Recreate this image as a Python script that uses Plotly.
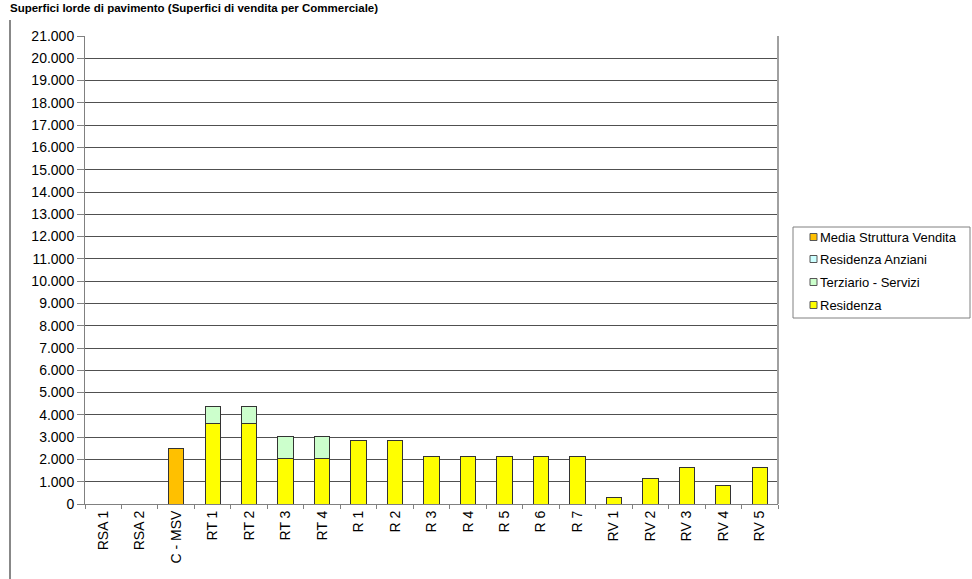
import plotly.graph_objects as go

categories = ["RSA 1", "RSA 2", "C - MSV", "RT 1", "RT 2", "RT 3", "RT 4", "R 1", "R 2",
              "R 3", "R 4", "R 5", "R 6", "R 7", "RV 1", "RV 2", "RV 3", "RV 4", "RV 5"]
residenza = [0, 0, 0, 3620, 3620, 2050, 2050, 2870, 2870, 2120, 2120, 2120, 2120, 2120,
             270, 1150, 1650, 850, 1650]
terziario = [0, 0, 0, 750, 750, 1000, 1000, 0, 0, 0, 0, 0, 0, 0, 0, 0, 0, 0, 0]
residenza_anziani = [0] * 19
media_struttura = [0, 0, 2500, 0, 0, 0, 0, 0, 0, 0, 0, 0, 0, 0, 0, 0, 0, 0, 0]
y_ticks = list(range(0, 21001, 1000))

W, H = 972, 579
L, R, T, B = 85, 778, 36, 504

def px(x):
    return (x - L) / (R - L)

def py(y):
    return (B - y) / (B - T)

FONT = "Liberation Sans, Arial"
fig = go.Figure()
series = [
    ("Residenza", residenza, "#FFFF00"),
    ("Terziario - Servizi", terziario, "#CCFFCC"),
    ("Residenza Anziani", residenza_anziani, "#CCFFFF"),
    ("Media Struttura Vendita", media_struttura, "#FFC000"),
]
for name, vals, col in series:
    fig.add_trace(go.Bar(x=categories, y=vals, name=name, showlegend=False,
                         marker=dict(color=col, line=dict(color="#333333", width=1))))

shapes = [
    dict(type="line", xref="paper", yref="paper", x0=1, x1=1, y0=0, y1=1,
         line=dict(color="#a0a0a0", width=2)),
    dict(type="line", xref="paper", yref="paper", x0=px(10), x1=px(10),
         y0=py(20), y1=py(579), line=dict(color="#606060", width=1.5)),
    # legend box
    dict(type="rect", xref="paper", yref="paper", x0=px(793), x1=px(970),
         y0=py(318), y1=py(227), line=dict(color="#808080", width=1), fillcolor="white"),
]
annotations = [
    dict(text="<b>Superfici lorde di pavimento (Superfici di vendita per Commerciale)</b>",
         xref="paper", yref="paper", x=px(8), y=py(0), xanchor="left", yanchor="top",
         showarrow=False, font=dict(size=11.5, family=FONT)),
]
legend_rows = [237, 259, 282, 305]
for (name, vals, col), yrow in zip(reversed(series), legend_rows):
    shapes.append(dict(type="rect", xref="paper", yref="paper",
                       x0=px(810), x1=px(817), y0=py(yrow + 3.5), y1=py(yrow - 3.5),
                       line=dict(color="#555555", width=1), fillcolor=col))
    annotations.append(dict(text=name, xref="paper", yref="paper", x=px(818), y=py(yrow),
                            xanchor="left", yanchor="middle", showarrow=False,
                            font=dict(size=13, family=FONT, color="black")))

fig.update_layout(
    barmode="stack",
    bargap=0.58,
    width=W, height=H,
    margin=dict(l=L, r=W - R, t=T, b=H - B, pad=0, autoexpand=False),
    paper_bgcolor="white", plot_bgcolor="white",
    separators=",.",
    font=dict(family=FONT, size=14, color="black"),
    showlegend=False,
    xaxis=dict(type="category", tickangle=-90, ticks="outside", tickson="boundaries",
               ticklen=4, tickcolor="#808080", showline=True, linecolor="#808080",
               mirror=False, tickfont=dict(size=14)),
    yaxis=dict(range=[0, 21000], tickvals=y_ticks, tickformat=",d", ticks="outside",
               ticklen=7, tickcolor="#808080", showline=True, linecolor="#808080",
               showgrid=True, gridcolor="#505050", gridwidth=1, zeroline=False,
               tickfont=dict(size=14)),
    shapes=shapes,
    annotations=annotations,
)

fig.write_html("out.html", config={"displayModeBar": False},
               post_script="document.body.style.margin='0px';document.body.style.overflow='hidden';")
